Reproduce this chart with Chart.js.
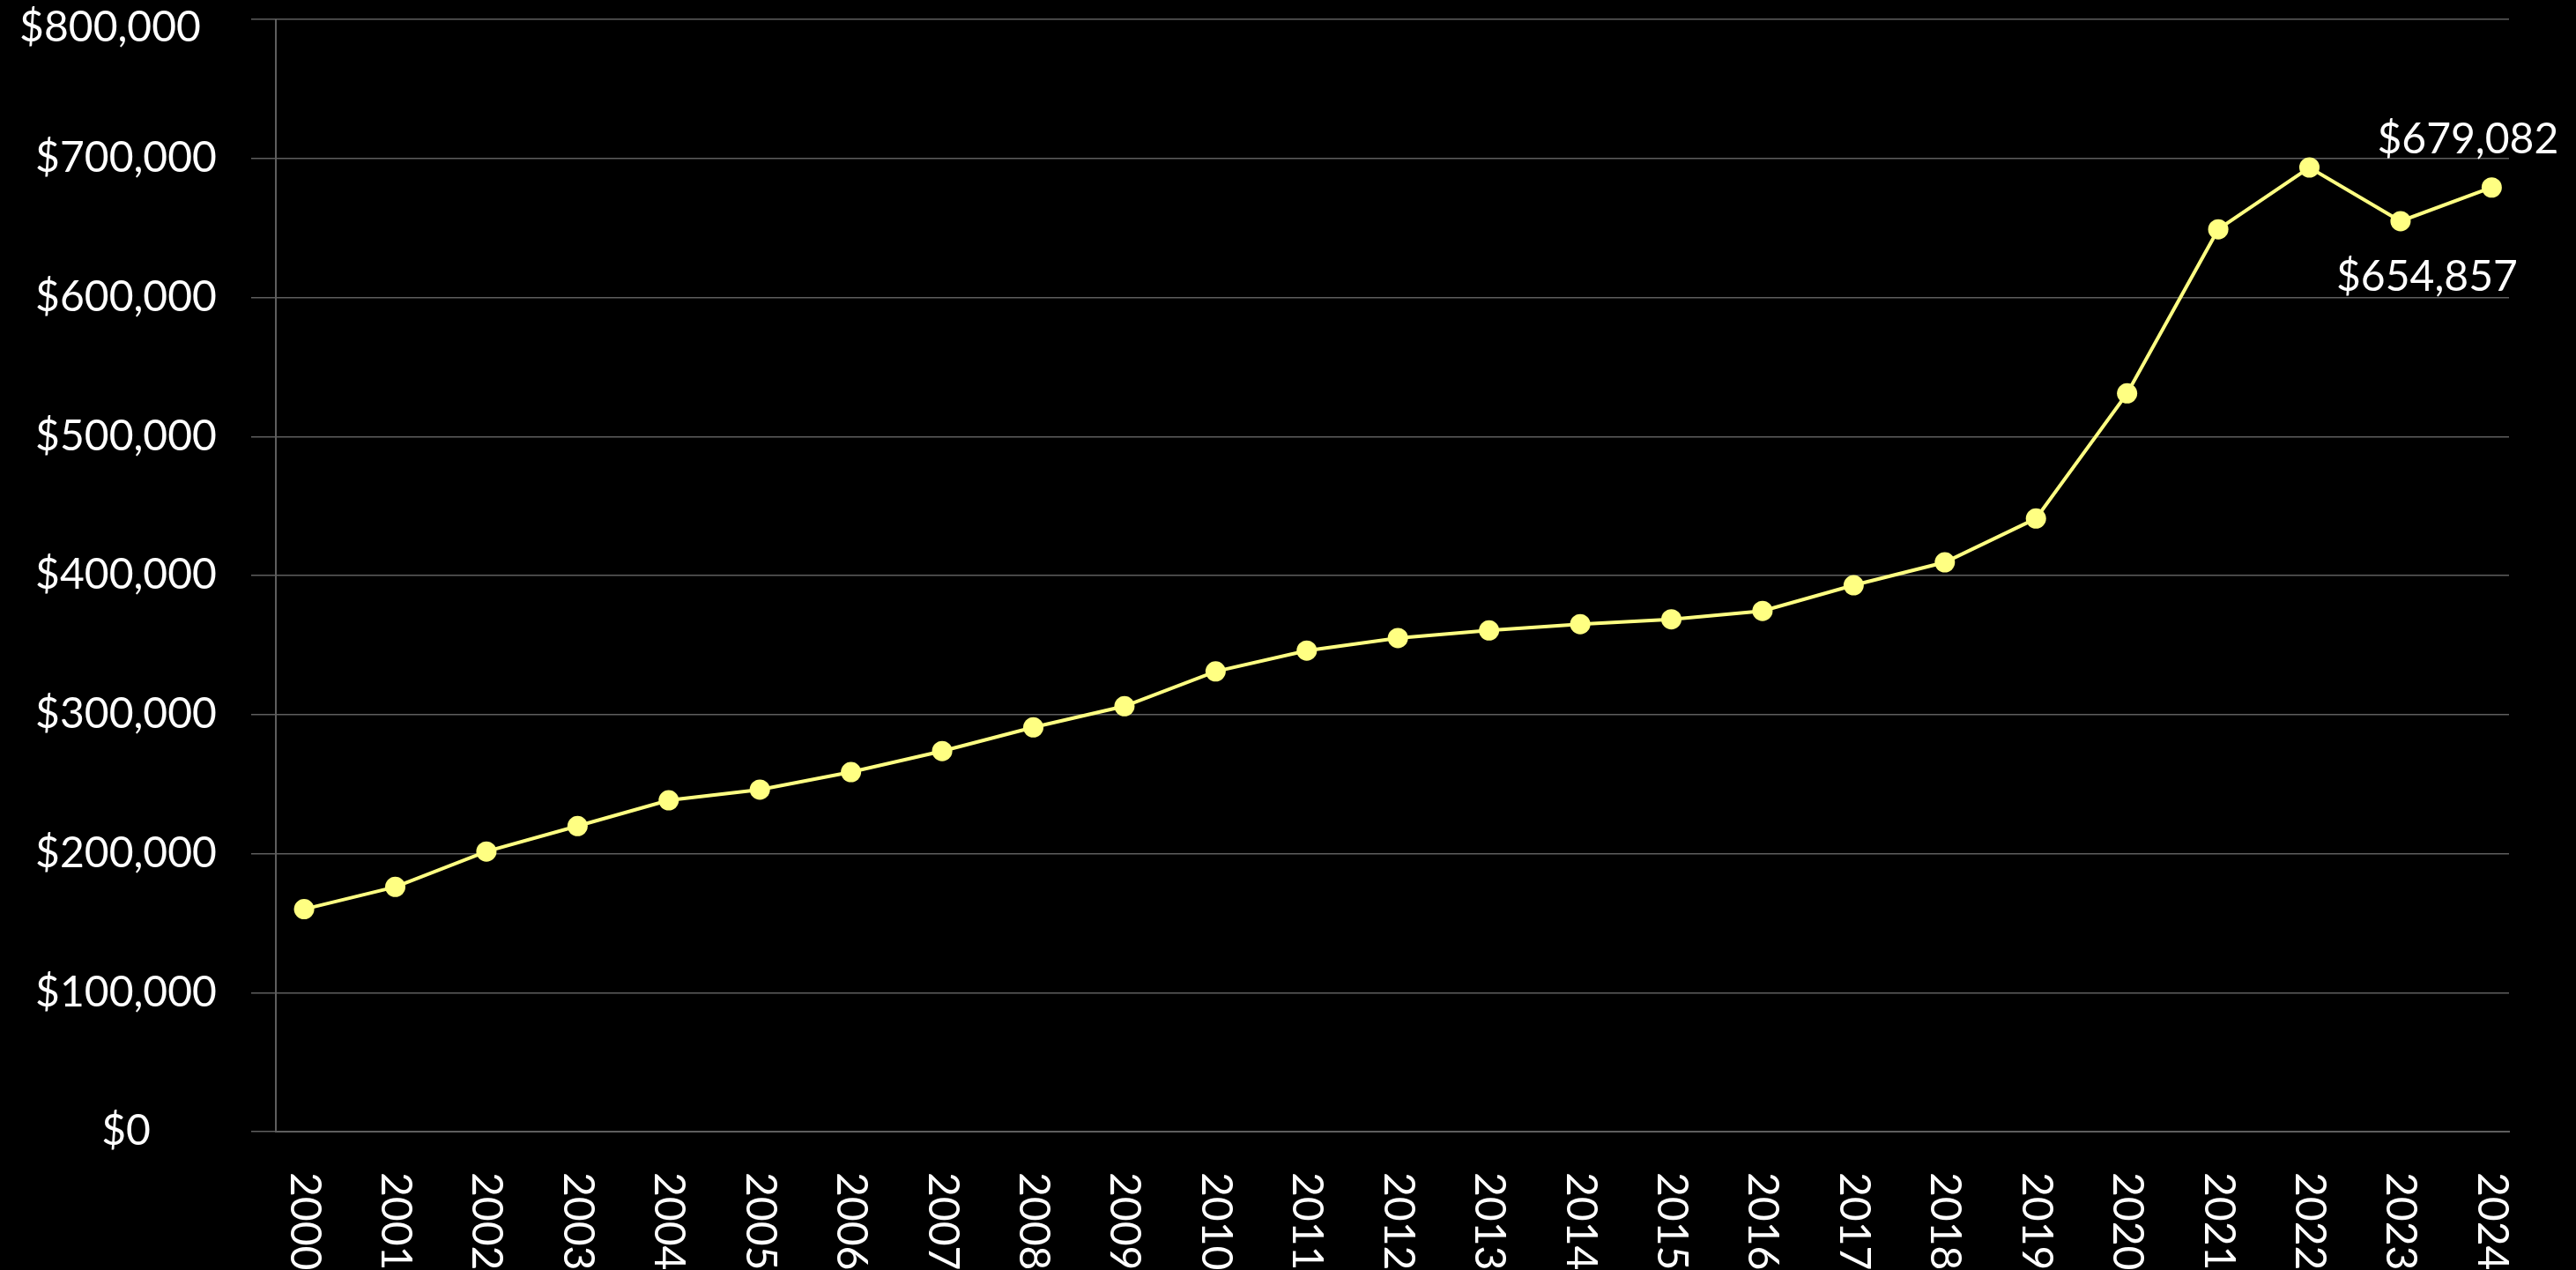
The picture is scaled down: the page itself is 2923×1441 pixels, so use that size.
<!DOCTYPE html>
<html>
<head>
<meta charset="utf-8">
<title>Median price 2000-2024</title>
<script src="https://cdn.jsdelivr.net/npm/chart.js@4"></script>
<style>
  html, body { margin: 0; padding: 0; background: #000; overflow: hidden; }
  #wrap { width: 2923px; height: 1441px; position: relative; }
</style>
</head>
<body>
<div id="wrap"><canvas id="priceChart"></canvas></div>
<script>
'use strict';
// ===================== data =====================
const years = [2000, 2001, 2002, 2003, 2004, 2005, 2006, 2007, 2008, 2009,
               2010, 2011, 2012, 2013, 2014, 2015, 2016, 2017, 2018, 2019,
               2020, 2021, 2022, 2023, 2024];
const prices = [160000, 176000, 201500, 219800, 238300, 246000, 258600, 273700, 290800, 306000,
                331000, 346000, 355000, 360500, 365000, 368500, 374500, 393000, 409500, 441000,
                531000, 649000, 693500, 654857, 679082];
const yTicks = [0, 100000, 200000, 300000, 400000, 500000, 600000, 700000, 800000];
const labelledYears = [2023, 2024];

// ===================== style =====================
const LINE = '#FFFF82';
const GRID = '#5e5e5e';
const TEXT = '#ffffff';
const FONT = 'Lato';
const FONT_SIZE = 48;

const money = v => '$' + Number(v).toLocaleString('en-US');

// black page behind the plot
const background = {
    id: 'background',
    beforeDraw(chart) {
        const { ctx, width, height } = chart;
        ctx.save();
        ctx.fillStyle = '#000';
        ctx.fillRect(0, 0, width, height);
        ctx.restore();
    }
};

// y labels centred in the axis column, top one nudged inside the page
const priceLabels = {
    id: 'priceLabels',
    afterDraw(chart) {
        const ys = chart.scales.y;
        const ctx = chart.ctx;
        ctx.save();
        ctx.fillStyle = TEXT;
        ctx.font = `${FONT_SIZE}px ${FONT}`;
        ctx.textAlign = 'center';
        ctx.textBaseline = 'middle';
        yTicks.forEach(v => {
            let py = ys.getPixelForValue(v);
            let px = ys.right - 170;
            if (py < 32) { py = 32; px -= 18; }
            ctx.fillText(money(v), px, py);
        });
        ctx.restore();
    }
};

// year labels turned to read top to bottom, as in the original
const yearLabels = {
    id: 'yearLabels',
    afterDraw(chart) {
        const xs = chart.scales.x;
        const ctx = chart.ctx;
        ctx.save();
        ctx.fillStyle = TEXT;
        ctx.font = `${FONT_SIZE}px ${FONT}`;
        ctx.textAlign = 'left';
        ctx.textBaseline = 'middle';
        years.forEach(yr => {
            ctx.save();
            ctx.translate(xs.getPixelForValue(yr), xs.top + 46);
            ctx.rotate(Math.PI / 2);
            ctx.fillText(String(yr), 0, 0);
            ctx.restore();
        });
        ctx.restore();
    }
};

// value labels on the last two points
const valueLabels = {
    id: 'valueLabels',
    afterDatasetsDraw(chart) {
        const meta = chart.getDatasetMeta(0);
        const ctx = chart.ctx;
        const place = { 2023: { dx: 30, dy: 79 }, 2024: { dx: -27, dy: -39 } };
        ctx.save();
        ctx.fillStyle = TEXT;
        ctx.font = `${FONT_SIZE}px ${FONT}`;
        ctx.textAlign = 'center';
        ctx.textBaseline = 'alphabetic';
        labelledYears.forEach(yr => {
            const i = years.indexOf(yr);
            const pt = meta.data[i];
            const p = place[yr];
            ctx.fillText(money(prices[i]), pt.x + p.dx, pt.y + p.dy);
        });
        ctx.restore();
    }
};

const ctx = document.getElementById('priceChart').getContext('2d');
new Chart(ctx, {
    type: 'line',
    data: {
        datasets: [{
            data: years.map((yr, i) => ({ x: yr, y: prices[i] })),
            borderColor: LINE,
            borderWidth: 4,
            backgroundColor: LINE,
            pointBackgroundColor: LINE,
            pointBorderWidth: 0,
            pointRadius: 11.5,
            pointHoverRadius: 11.5,
            tension: 0,
            fill: false
        }]
    },
    options: {
        responsive: true,
        maintainAspectRatio: false,
        animation: false,
        events: [],
        layout: { padding: { top: 22, right: 76, left: 0, bottom: 0 } },
        plugins: {
            legend: { display: false },
            tooltip: { enabled: false }
        },
        scales: {
            x: {
                type: 'linear',
                min: years[0] - 0.31,
                max: years[years.length - 1] + 0.19,
                grid: { display: false },
                border: { display: true, color: GRID, width: 2 },
                ticks: { display: false },
                afterFit(scale) {
                    scale.height = 157;
                    scale.paddingLeft = 0;
                    scale.paddingRight = 0;
                }
            },
            y: {
                min: yTicks[0],
                max: yTicks[yTicks.length - 1],
                afterBuildTicks(scale) {
                    scale.ticks = yTicks.map(v => ({ value: v }));
                },
                ticks: {
                    color: 'rgba(0,0,0,0)',
                    font: { family: FONT, size: FONT_SIZE },
                    padding: 40,
                    callback: v => money(v)
                },
                grid: { color: GRID, lineWidth: 1.5, tickLength: 28, tickColor: GRID },
                border: { color: GRID, width: 2 },
                afterFit(scale) {
                    scale.width = 313;
                    scale.paddingTop = 0;
                    scale.paddingBottom = 0;
                }
            }
        }
    },
    plugins: [background, priceLabels, yearLabels, valueLabels]
});
</script>
</body>
</html>
